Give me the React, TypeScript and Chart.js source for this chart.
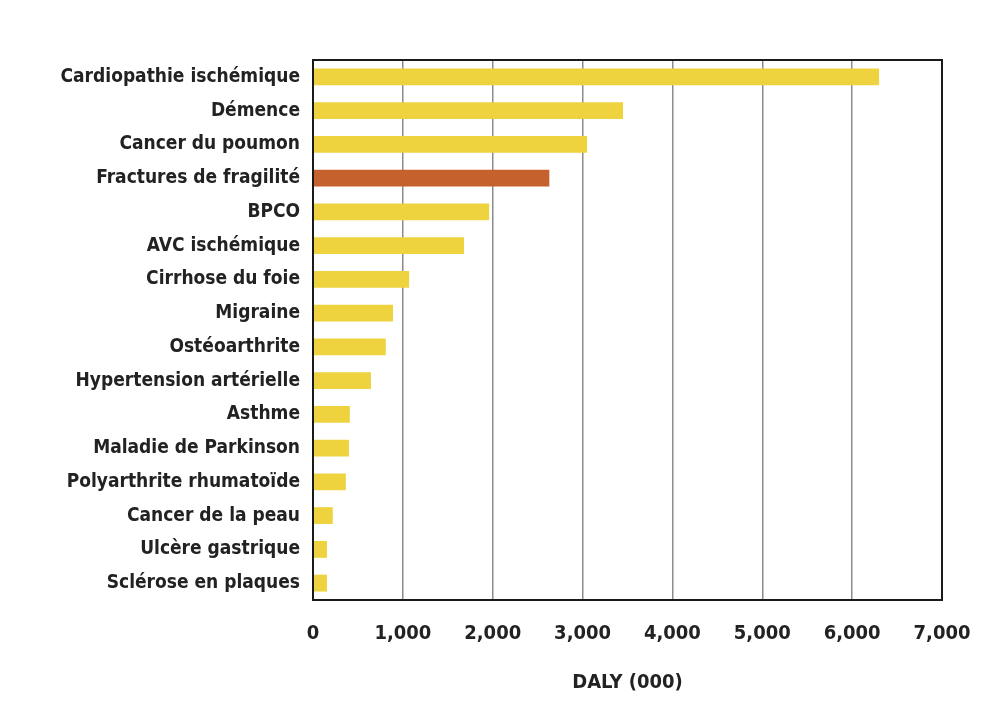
import React, { useEffect, useRef } from "react";
import { Chart, registerables } from "chart.js";

Chart.register(...registerables);

const categories = [
  "Cardiopathie ischémique",
  "Démence",
  "Cancer du poumon",
  "Fractures de fragilité",
  "BPCO",
  "AVC ischémique",
  "Cirrhose du foie",
  "Migraine",
  "Ostéoarthrite",
  "Hypertension artérielle",
  "Asthme",
  "Maladie de Parkinson",
  "Polyarthrite rhumatoïde",
  "Cancer de la peau",
  "Ulcère gastrique",
  "Sclérose en plaques",
];

const dalyValues = [6300, 3450, 3050, 2630, 1960, 1680, 1070, 890, 810, 645, 410, 400, 365, 220, 155, 155];

const highlightIndex = 3;
const xTicks = [0, 1000, 2000, 3000, 4000, 5000, 6000, 7000];
const xTitle = "DALY (000)";

const FONT = "'Liberation Sans Narrow', 'DejaVu Sans Condensed', 'Arial Narrow', sans-serif";

const frameBorder = {
  id: "frameBorder",
  afterDraw(chart: any) {
    const { ctx, chartArea } = chart;
    ctx.save();
    ctx.strokeStyle = "#1a1a1a";
    ctx.lineWidth = 2;
    ctx.strokeRect(chartArea.left, chartArea.top, chartArea.right - chartArea.left, chartArea.bottom - chartArea.top);
    ctx.restore();
  },
};

export default function App() {
  const ref = useRef<HTMLCanvasElement | null>(null);

  useEffect(() => {
    document.body.style.margin = "0";
    const colors = dalyValues.map((_, i) => (i === highlightIndex ? "#C4612D" : "#EED23E"));
    const chart = new Chart(ref.current as HTMLCanvasElement, {
      type: "bar",
      data: {
        labels: categories,
        datasets: [
          {
            data: dalyValues,
            backgroundColor: colors,
            borderWidth: 0,
            categoryPercentage: 1,
            barPercentage: 0.5,
          },
        ],
      },
      plugins: [frameBorder],
      options: {
        indexAxis: "y",
        animation: false,
        responsive: false,
        maintainAspectRatio: false,
        layout: { padding: { top: 60, right: 55, left: 10, bottom: 8 } },
        plugins: {
          legend: { display: false },
          tooltip: { enabled: false },
        },
        scales: {
          x: {
            min: 0,
            max: 7000,
            afterBuildTicks: (scale: any) => {
              scale.ticks = xTicks.map((v) => ({ value: v }));
            },
            ticks: {
              color: "#222",
              font: { family: FONT, size: 20, weight: "bold" },
              padding: 22,
              maxRotation: 0,
              callback: (v: any) => Number(v).toLocaleString("en-US"),
            },
            grid: { color: "#8c8c8c", lineWidth: 1.5, drawTicks: false },
            border: { display: false },
            title: {
              display: true,
              text: xTitle,
              color: "#222",
              font: { family: FONT, size: 20, weight: "bold" },
              padding: { top: 3, bottom: 8 },
            },
          },
          y: {
            afterFit: (scale: any) => {
              scale.width = 303;
            },
            ticks: {
              color: "#222",
              font: { family: FONT, size: 19, weight: "bold" },
              padding: 13,
            },
            grid: { display: false, drawTicks: false },
            border: { display: false },
          },
        },
      },
    } as any);
    return () => chart.destroy();
  }, []);

  return (
    <div style={{ width: 997, height: 711, background: "#fff" }}>
      <canvas ref={ref} width={997} height={711} style={{ display: "block" }} />
    </div>
  );
}
